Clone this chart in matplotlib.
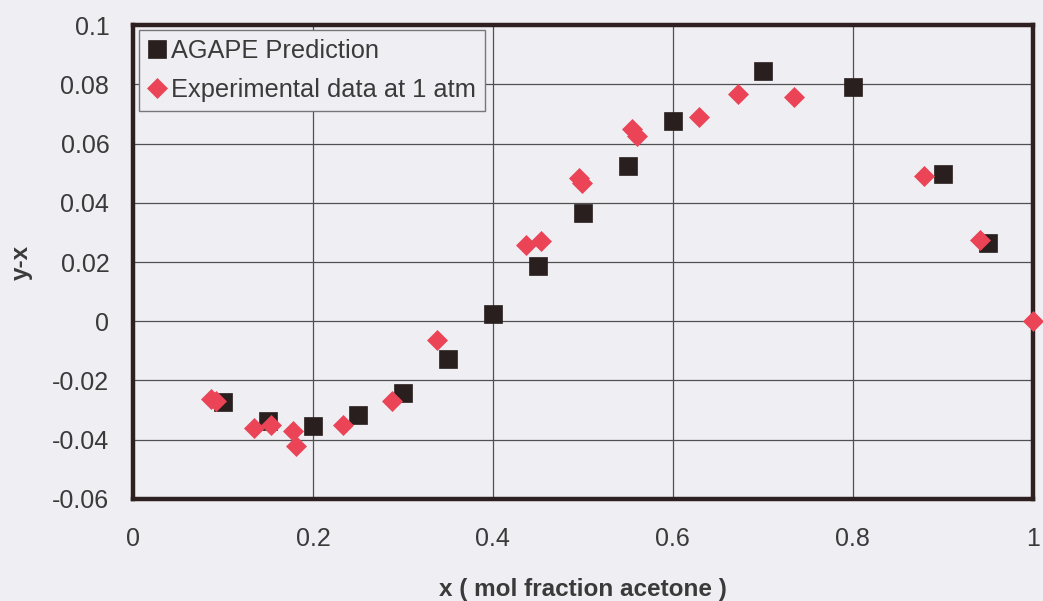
import matplotlib
matplotlib.use("Agg")
import matplotlib.pyplot as plt

plt.rcParams['font.family'] = ['Liberation Sans', 'DejaVu Sans']

# AGAPE prediction
pred_x = [0.10, 0.15, 0.20, 0.25, 0.30, 0.35, 0.40, 0.45, 0.50, 0.55, 0.60, 0.70, 0.80, 0.90, 0.95]
pred_y = [-0.0274, -0.0338, -0.0355, -0.0318, -0.0244, -0.0126, 0.0025, 0.0187, 0.0365, 0.0526,
          0.0677, 0.0845, 0.0790, 0.0499, 0.0264]

# Experimental data at 1 atm
exp_x = [0.087, 0.092, 0.135, 0.153, 0.178, 0.181, 0.233, 0.2875, 0.338, 0.437, 0.454, 0.496, 0.499,
         0.555, 0.560, 0.629, 0.673, 0.735, 0.879, 0.942, 1.0]
exp_y = [-0.0264, -0.0270, -0.0360, -0.0351, -0.0370, -0.0422, -0.0350, -0.0268, -0.0062, 0.0258,
         0.0270, 0.0483, 0.0466, 0.0650, 0.0627, 0.0690, 0.0768, 0.0758, 0.0489, 0.0274, 0.0]

x_ticks = [0, 0.2, 0.4, 0.6, 0.8, 1.0]
x_labels = ["0", "0.2", "0.4", "0.6", "0.8", "1"]
y_ticks = [-0.06, -0.04, -0.02, 0, 0.02, 0.04, 0.06, 0.08, 0.1]
y_labels = ["-0.06", "-0.04", "-0.02", "0", "0.02", "0.04", "0.06", "0.08", "0.1"]

bg = "#efeef3"
sq_color = "#2a1f1f"
dia_color = "#ea4456"
border = "#2e2020"
txt = "#3a3a3a"

fig = plt.figure(figsize=(10.43, 6.01), dpi=100, facecolor=bg)
ax = fig.add_axes([0.1275, 0.170, 0.8625, 0.788])
ax.set_facecolor(bg)

ax.set_xlim(0, 1)
ax.set_ylim(-0.06, 0.1)
ax.set_xticks(x_ticks)
ax.set_xticklabels(x_labels)
ax.set_yticks(y_ticks)
ax.set_yticklabels(y_labels)
ax.tick_params(axis='both', length=0, labelsize=18, colors=txt)
ax.tick_params(axis='x', pad=20)
ax.tick_params(axis='y', pad=17)
ax.grid(True, color="#505050", linewidth=0.9, zorder=0)
ax.set_axisbelow(True)

for s in ax.spines.values():
    s.set_linewidth(3.2)
    s.set_color(border)
    s.set_zorder(2.5)

ax.plot(pred_x, pred_y, linestyle='none', marker='s', ms=13.5, color=sq_color,
        mec=sq_color, mew=0.5, label="AGAPE Prediction", zorder=3, clip_on=False)
ax.plot(exp_x, exp_y, linestyle='none', marker='D', ms=10.5, color=dia_color,
        mec=dia_color, mew=0.5, label="Experimental data at 1 atm", zorder=4, clip_on=False)

leg = ax.legend(loc='upper left', bbox_to_anchor=(0.007, 0.99), fontsize=18.3,
                frameon=True, fancybox=False, handlelength=0.7, handletextpad=0.2,
                borderpad=0.35, labelspacing=0.6, borderaxespad=0.0, markerscale=1.0)
leg.get_frame().set_facecolor(bg)
leg.get_frame().set_edgecolor("#777777")
leg.get_frame().set_linewidth(1.0)
leg.get_frame().set_alpha(1.0)
for t in leg.get_texts():
    t.set_color(txt)

ax.set_xlabel("x ( mol fraction acetone )", fontsize=17.5, fontweight='bold', color=txt, labelpad=20)
ax.set_ylabel("y-x", fontsize=17.5, fontweight='bold', color=txt, labelpad=14)

fig.savefig("out.png", dpi=100, facecolor=bg)
